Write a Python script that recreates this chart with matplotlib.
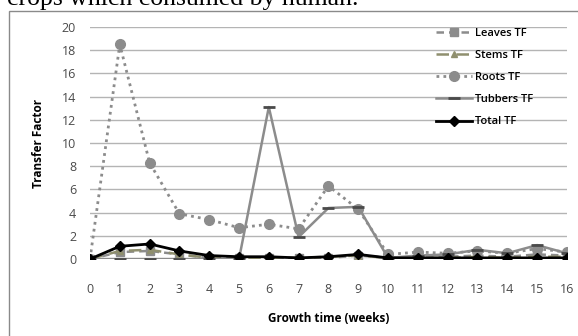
import numpy as np
import matplotlib.pyplot as plt
from matplotlib.patches import Rectangle

weeks = list(range(17))

leaves_tf = [0.0, 0.6, 0.7, 0.4, 0.1, 0.1, 0.1, 0.1, 0.1, 0.3, 0.1, 0.1, 0.2, 0.3, 0.2, 0.4, 0.3]
stems_tf = [0.0, 0.7, 0.8, 0.4, 0.1, 0.1, 0.1, 0.1, 0.2, 0.3, 0.1, 0.1, 0.1, 0.2, 0.1, 0.2, 0.2]
roots_tf = [0.0, 18.5, 8.3, 3.9, 3.4, 2.7, 3.0, 2.6, 6.3, 4.3, 0.4, 0.6, 0.5, 0.7, 0.5, 0.9, 0.6]
tubbers_tf = [0.0, 0.0, 0.0, 0.0, 0.0, 0.0, 13.1, 1.9, 4.4, 4.5, 0.1, 0.3, 0.4, 0.8, 0.5, 1.2, 0.5]
total_tf = [0.0, 1.1, 1.3, 0.7, 0.3, 0.2, 0.2, 0.1, 0.2, 0.4, 0.1, 0.1, 0.1, 0.1, 0.1, 0.1, 0.1]

yticks = list(range(0, 21, 2))

plt.rcParams["font.family"] = ["Open Sans", "DejaVu Sans"]

fig = plt.figure(figsize=(5.78, 3.36), dpi=100)
ax = fig.add_axes([0.1557, 0.229, 0.825, 0.6906])

# outer chart border (runs off the right/bottom of the crop)
fig.patches.append(Rectangle((9 / 578, -0.05), 1.0, 1 - 11 / 336 + 0.05,
                             transform=fig.transFigure, fill=False,
                             edgecolor="#8a8a8a", linewidth=1.0))

fig.text(7 / 578, 1 - 5.5 / 336, "crops which consumed by human.",
         family="Liberation Serif", fontsize=18.5, va="baseline", ha="left")

gray = "#8c8c8c"
ax.plot(weeks, leaves_tf, linestyle=(0, (3, 2)), color=gray, linewidth=1.8,
        marker="s", markersize=6, label="Leaves TF")
ax.plot(weeks, stems_tf, linestyle=(0, (5, 3)), color="#8f8f6e", linewidth=1.8,
        marker="^", markersize=5, label="Stems TF")
ax.plot(weeks, roots_tf, linestyle=(0, (1, 1.5)), color=gray, linewidth=2,
        marker="o", markersize=7, label="Roots TF")
ax.plot(weeks, tubbers_tf, linestyle="-", color=gray, linewidth=1.8,
        marker="_", markersize=9, markeredgewidth=2, markeredgecolor="#4a4a4a",
        label="Tubbers TF")
ax.plot(weeks, total_tf, linestyle="-", color="black", linewidth=2,
        marker="D", markersize=5, label="Total TF")

ax.set_xlim(0, 16)
ax.set_ylim(0, 20)
ax.set_xticks(weeks)
ax.set_yticks(yticks)
ax.grid(True, axis="y", color="#b4b4b4", linewidth=1)
ax.set_axisbelow(True)
for s in ax.spines.values():
    s.set_visible(False)
ax.tick_params(length=0, labelsize=9, labelcolor="#4a4a4a")
ax.tick_params(axis="x", pad=17)
ax.tick_params(axis="y", pad=10)

ax.set_xlabel("Growth time (weeks)", fontsize=8.5, fontweight="bold", labelpad=12)
ax.set_ylabel("Transfer Factor", fontsize=8.5, fontweight="bold", labelpad=12)

ax.legend(loc="upper left", bbox_to_anchor=(436 / 578, 1 - 28 / 336),
          bbox_transform=fig.transFigure, frameon=False,
          prop={"weight": "semibold", "size": 8},
          handlelength=3.2, labelspacing=1.0, handletextpad=0.3,
          borderaxespad=0, borderpad=0)

fig.savefig("out.png", dpi=100)
